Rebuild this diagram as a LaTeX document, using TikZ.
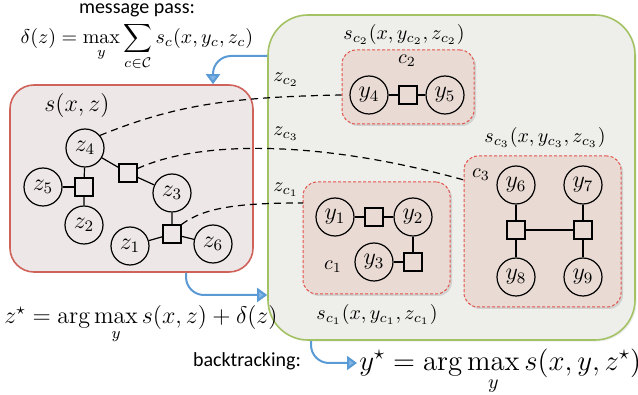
\documentclass[tikz,border=0pt]{standalone}
\usepackage{amsmath,amssymb}
\usepackage{fontspec}
\newfontfamily\calibri{Carlito}
\usetikzlibrary{arrows.meta,shadows}

\definecolor{flowblue}{HTML}{5B9BD5}
\definecolor{flowlight}{HTML}{82B4E6}
\definecolor{zonegreen}{HTML}{A3C264}
\definecolor{zonegray}{HTML}{EEEEEB}
\definecolor{zonered}{HTML}{D0625C}
\definecolor{zonepink}{HTML}{EDE7E7}
\definecolor{cliquered}{HTML}{E2534C}
\definecolor{cliquefill}{HTML}{E9DBD4}

\tikzset{
  var/.style={circle, draw, line width=0.6pt, minimum size=19pt, inner sep=0pt, font=\large},
  factor/.style={rectangle, draw, line width=0.6pt, minimum size=9pt, inner sep=0pt},
  edge/.style={line width=0.6pt},
  link/.style={line width=0.6pt, dash pattern=on 3.5pt off 2.5pt},
  flow/.style={draw=flowblue, line width=1pt, rounded corners=9pt,
    -{Triangle[width=7pt,length=5pt,fill=flowlight]}},
  clique/.style={draw=cliquered, fill=cliquefill, line width=0.5pt,
    dash pattern=on 1.5pt off 1pt, rounded corners=7pt,
    drop shadow={shadow xshift=1pt, shadow yshift=-1pt, opacity=0.25}},
  label/.style={anchor=base, inner sep=0pt},
}

\begin{document}
\begin{tikzpicture}[x=0.5pt, y=-0.5pt]
  \useasboundingbox (0,0) rectangle (638,395);

  % outer zones
  \node[draw=zonegreen, fill=zonegray, line width=0.8pt, rounded corners=20pt,
    minimum width=183.5pt, minimum height=162.5pt,
    drop shadow={shadow xshift=0.8pt, shadow yshift=-0.8pt, opacity=0.15}]
    (gbox) at (451.5,177.5) {};
  \node[draw=zonered, fill=zonepink, line width=0.8pt, rounded corners=12pt,
    minimum width=121.5pt, minimum height=93.5pt] (sbox) at (131.5,178.5) {};

  % cliques
  \node[clique, minimum width=66pt, minimum height=37pt] (c2box) at (408,87) {};
  \node[clique, minimum width=78.5pt, minimum height=75.5pt] (c3box) at (542.5,231.5) {};
  \node[clique, minimum width=73.5pt, minimum height=56pt] (c1box) at (376.5,238) {};

  % z part
  \node[var] (z4) at (85,148) {$z_4$};
  \node[var] (z5) at (43,187) {$z_5$};
  \node[var] (z2) at (84,225) {$z_2$};
  \node[var] (z3) at (172,193) {$z_3$};
  \node[var] (z1) at (130,246) {$z_1$};
  \node[var] (z6) at (213,244) {$z_6$};
  \node[factor] (f1) at (84,187) {};
  \node[factor] (f2) at (128,173) {};
  \node[factor] (f3) at (172,234) {};

  \draw[edge] (z4) -- (f1) -- (z2);
  \draw[edge] (z5) -- (f1);
  \draw[edge] (z4) -- (f2) -- (z3);
  \draw[edge] (z3) -- (f3) -- (z1);
  \draw[edge] (f3) -- (z6);

  % y part
  \node[var] (y4) at (369,95) {$y_4$};
  \node[var] (y5) at (445,95) {$y_5$};
  \node[factor] (g4) at (408,95) {};
  \draw[edge] (y4) -- (g4) -- (y5);

  \node[var] (y1) at (335,217) {$y_1$};
  \node[var] (y2) at (413,217) {$y_2$};
  \node[var] (y3) at (374,262) {$y_3$};
  \node[factor] (g1) at (374,217) {};
  \node[factor] (g2) at (413,262) {};
  \draw[edge] (y1) -- (g1) -- (y2);
  \draw[edge] (y2) -- (g2) -- (y3);

  \node[var] (y6) at (516,185) {$y_6$};
  \node[var] (y7) at (583,185) {$y_7$};
  \node[var] (y8) at (516,277) {$y_8$};
  \node[var] (y9) at (583,277) {$y_9$};
  \node[factor] (g6) at (516,230) {};
  \node[factor] (g7) at (583,230) {};
  \draw[edge] (y6) -- (g6) -- (y8);
  \draw[edge] (y7) -- (g7) -- (y9);
  \draw[edge] (g6) -- (g7);

  % links between z and the cliques
  \coordinate (c3in) at (464,180);
  \coordinate (c1in) at (303,203);
  \draw[link] (z4.40) .. controls (175,105) and (230,97) .. (c2box.west |- y4);
  \draw[link] (f2.25) .. controls (200,140) and (320,140) .. (c3in);
  \draw[link] (f3.north east) .. controls (205,207) and (240,203) .. (c1in);

  % labels
  \node[label, font=\large] (slab) at (77,112) {$s(x,z)$};
  \node[label] (sc2) at (404,40) {$s_{c_2}(x,y_{c_2},z_{c_2})$};
  \node[label] (sc3) at (545,143) {$s_{c_3}(x,y_{c_3},z_{c_3})$};
  \node[label] (sc1) at (377,320) {$s_{c_1}(x,y_{c_1},z_{c_1})$};
  \node[label] at (407,64) {$c_2$};
  \node[label] at (481,178) {$c_3$};
  \node[label] at (333,270) {$c_1$};
  \node[label, anchor=base west] at (273,82) {$z_{c_2}$};
  \node[label, anchor=base west] at (273,136) {$z_{c_3}$};
  \node[label, anchor=base west] at (273,192) {$z_{c_1}$};

  % equations
  \node[label, font=\calibri] (mp) at (137,14) {message pass:};
  \node[label] (delta) at (137,44)
    {$\displaystyle \delta(z) = \max_y \sum_{c\in\mathcal{C}} s_c(x,y_c,z_c)$};
  \node[label, font=\large] (zstar) at (141,324)
    {$\displaystyle z^\star = \arg\max_y s(x,z)+\delta(z)$};
  \node[label, font=\calibri] (bt) at (247,367) {backtracking:};
  \node[label, anchor=base west, font=\Large] (ystar) at (359,371)
    {$\displaystyle y^\star = \arg\max_y s(x,y,z^\star)$};

  % message flow
  \coordinate (mpout) at (gbox.west |- 0,56);
  \coordinate (mpin) at (sbox.north -| 213,0);
  \coordinate (zout) at (sbox.south -| 186,0);
  \coordinate (zin) at (gbox.west |- 0,295);
  \coordinate (yout) at (gbox.south -| 311,0);
  \coordinate (yin) at (357,363);
  \draw[flow] (mpout) -| (mpin);
  \draw[flow] (zout) |- (zin);
  \draw[flow] (yout) |- (yin);
\end{tikzpicture}
\end{document}
